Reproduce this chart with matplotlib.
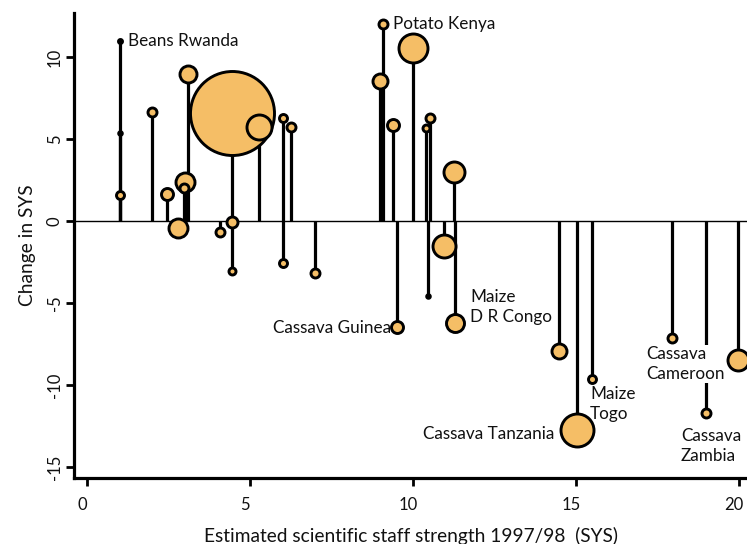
import matplotlib
matplotlib.use("Agg")
import matplotlib.pyplot as plt
import matplotlib.transforms as mtransforms
import numpy as np

plt.rcParams['font.family'] = ['Lato', 'DejaVu Sans']
plt.rcParams['axes.unicode_minus'] = False

# Estimated scientific staff strength 1997/98 (SYS)
staff = [1.0, 1.0, 1.0, 2.0, 2.45, 2.8, 3.09, 3.0, 2.98, 4.09,
         4.46, 4.46, 4.46, 5.29, 6.0, 6.0, 6.26, 7.0, 9.09, 10.01,
         8.99, 9.4, 10.52, 10.4, 11.27, 10.96, 9.5, 10.47, 11.29, 14.49,
         15.5, 15.02, 17.95, 18.99, 19.98]
# Change in SYS
change = [11.0, 5.35, 1.6, 6.67, 1.63, -0.45, 8.96, 2.35, 2.0, -0.65,
          6.57, -0.08, -3.03, 5.75, 6.26, -2.58, 5.73, -3.17, 12.0, 10.57,
          8.54, 5.85, 6.26, 5.65, 2.97, -1.52, -6.44, -4.55, -6.24, -7.9,
          -9.63, -12.74, -7.15, -11.73, -8.48]
# Relative bubble size of each programme
bubble = [2.0, 1.8, 4.0, 4.5, 6.0, 9.5, 8.5, 9.5, 4.5, 4.5,
          42.0, 5.5, 3.5, 12.5, 4.0, 4.0, 4.5, 4.5, 4.5, 14.5,
          7.5, 6.0, 4.5, 3.5, 10.5, 11.5, 6.0, 1.8, 9.0, 7.5,
          4.0, 16.5, 4.5, 4.5, 10.5]

labels = ["Beans Rwanda", "Potato Kenya", "Cassava Guinea", "Maize\nD R Congo",
          "Cassava Tanzania", "Maize\nTogo", "Cassava\nCameroon", "Cassava\nZambia"]
label_x = [1.26, 9.39, 9.33, 11.75, 14.35, 15.43, 17.15, 18.22]
label_y = [11.0, 12.0, -6.5, -5.25, -13.0, -11.15, -8.72, -13.72]
label_ha = ["left", "left", "right", "left", "right", "left", "left", "left"]

fill = "#F5BE66"

fig = plt.figure(figsize=(7.47, 5.44), dpi=100)
ax = fig.add_axes([74 / 747, 1 - 478 / 544, 1 - 74 / 747, (478 - 13) / 544])

# stems from zero to each value
ax.vlines(staff, 0, change, colors="black", linewidth=2.3, zorder=2)
ax.axhline(0, color="black", linewidth=1.0, zorder=1)

# bubbles, largest first so smaller ones sit on top
order = np.argsort(bubble)[::-1]
for i in order:
    face = "black" if bubble[i] < 3 else fill
    ax.scatter(staff[i], change[i], s=(1.44 * bubble[i]) ** 2, facecolor=face,
               edgecolor="black", linewidth=2.1, zorder=4, clip_on=False)

for t, lx, ly, ha in zip(labels, label_x, label_y, label_ha):
    txt = ax.text(lx, ly, t, ha=ha, va="center", fontsize=12.3, color="#111111",
                  linespacing=1.3, zorder=3)
    if t.startswith("Cassava\nCameroon"):
        txt.set_bbox(dict(facecolor="white", edgecolor="none", pad=0.5))

ax.set_xlim(-0.40, 20.25)
ax.set_ylim(-15.67, 12.68)
ax.set_xticks([0, 5, 10, 15, 20])
ax.set_yticks([-15, -10, -5, 0, 5, 10])

for side in ("top", "right"):
    ax.spines[side].set_visible(False)
for side in ("left", "bottom"):
    ax.spines[side].set_linewidth(2.3)

ax.tick_params(axis="both", direction="out", width=2.0, length=6, labelsize=12,
               color="black", labelcolor="#111111")
ax.tick_params(axis="x", pad=8)
ax.tick_params(axis="y", pad=2)
for lbl in ax.get_yticklabels():
    lbl.set_rotation(90)
    lbl.set_va("center")
    lbl.set_ha("right")

# nudge the x tick labels slightly left of their ticks
shift = mtransforms.ScaledTranslation(-5 / 100, 0, fig.dpi_scale_trans)
for lbl in ax.get_xticklabels():
    lbl.set_transform(lbl.get_transform() + shift)

ax.set_xlabel("Estimated scientific staff strength 1997/98  (SYS)", fontsize=13.8,
              color="#111111", labelpad=10)
ax.set_ylabel("Change in SYS", fontsize=13.8, color="#111111", labelpad=8)

fig.savefig("out.png", dpi=100)
